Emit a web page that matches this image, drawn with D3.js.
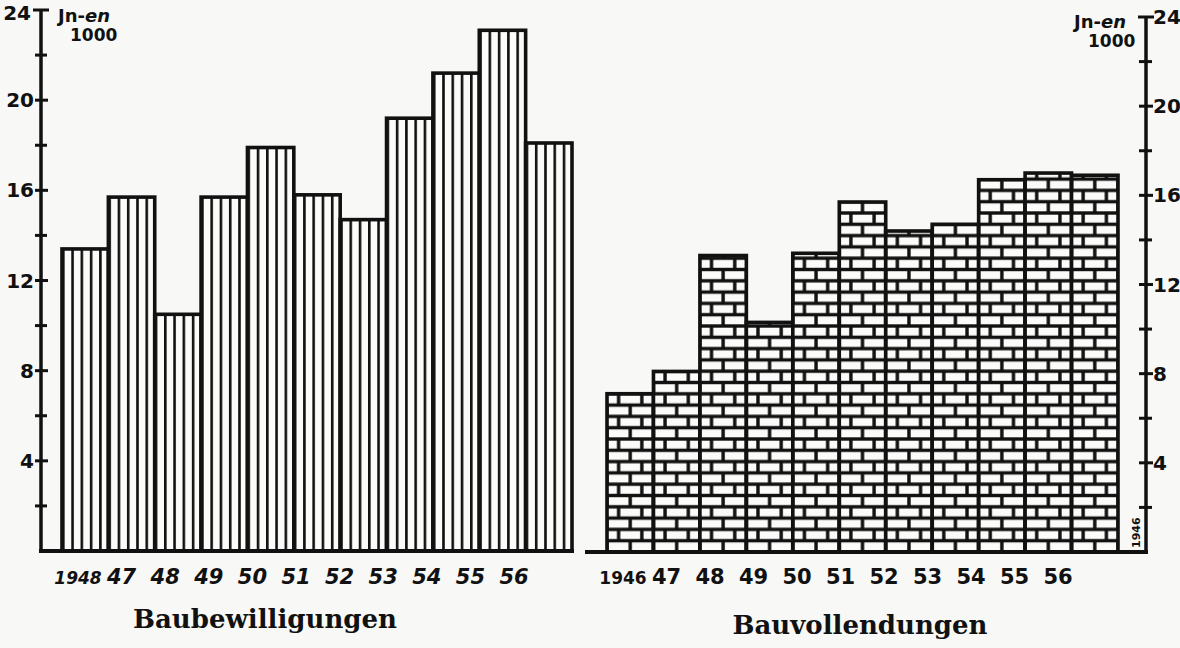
<!DOCTYPE html>
<html>
<head>
<meta charset="utf-8">
<script src="https://cdn.jsdelivr.net/npm/d3@7"></script>
<style>
  body { margin: 0; background: #f8f8f6; }
  svg { display: block; }
</style>
</head>
<body>
<div id="chart"></div>
<script>
// data (Jn-en 1000)
var yearsLeft = ["1948", "47", "48", "49", "50", "51", "52", "53", "54", "55", "56"];
var bewilligungen = [13.4, 15.7, 10.5, 15.7, 17.9, 15.8, 14.7, 19.2, 21.2, 23.1, 18.1];

var yearsRight = ["1946", "47", "48", "49", "50", "51", "52", "53", "54", "55", "56"];
var vollendungen = [7.1, 8.1, 13.3, 10.3, 13.4, 15.7, 14.4, 14.7, 16.7, 17.0, 16.9];

var majorTicks = [4, 8, 12, 16, 20, 24];
var minorTicks = [2, 6, 10, 14, 18, 22];

var svgWidth = 1180, svgHeight = 648;

var svg = d3.select("#chart")
    .append("svg")
    .attr("width", svgWidth)
    .attr("height", svgHeight);

var defs = svg.append("defs");
var ink = "#111";
var paper = "#fbfbf9";
var numFont = "'DejaVu Sans', sans-serif";

// ---------- left chart: Baubewilligungen ----------
var yL = d3.scaleLinear().domain([0, 24]).range([551, 10]);
var xL = d3.scaleBand().domain(yearsLeft).range([62, 572]).padding(0);
var labL = d3.scalePoint().domain(yearsLeft).range([78, 514]);

// stripes, one pattern per bar so lines line up with the bar edge
yearsLeft.forEach(function (d, i) {
    var p = defs.append("pattern")
        .attr("id", "stripe" + i)
        .attr("patternUnits", "userSpaceOnUse")
        .attr("x", xL(d))
        .attr("y", 0)
        .attr("width", xL.bandwidth() / 5)
        .attr("height", 20);
    p.append("rect").attr("width", xL.bandwidth() / 5).attr("height", 20).attr("fill", paper);
    p.append("rect").attr("x", 0).attr("width", 2.6).attr("height", 20).attr("fill", ink);
});

var gL = svg.append("g");

gL.selectAll("rect.bar")
    .data(bewilligungen)
    .enter()
    .append("rect")
    .attr("class", "bar")
    .attr("x", function (d, i) { return xL(yearsLeft[i]); })
    .attr("y", function (d) { return yL(d); })
    .attr("width", xL.bandwidth())
    .attr("height", function (d) { return yL(0) - yL(d); })
    .attr("fill", function (d, i) { return "url(#stripe" + i + ")"; })
    .attr("stroke", ink)
    .attr("stroke-width", 3.6);

// axis line + baseline
gL.append("line").attr("x1", 41).attr("x2", 41).attr("y1", yL(24)).attr("y2", yL(0))
    .attr("stroke", ink).attr("stroke-width", 3.5);
gL.append("line").attr("x1", 39).attr("x2", 574).attr("y1", yL(0)).attr("y2", yL(0))
    .attr("stroke", ink).attr("stroke-width", 4);

gL.selectAll("line.maj")
    .data(majorTicks)
    .enter()
    .append("line")
    .attr("x1", function (d) { return d == 24 ? 33 : 35; })
    .attr("x2", function (d) { return d == 24 ? 49 : 48; })
    .attr("y1", function (d) { return yL(d); })
    .attr("y2", function (d) { return yL(d); })
    .attr("stroke", ink).attr("stroke-width", 3);
gL.selectAll("line.min")
    .data(minorTicks)
    .enter()
    .append("line")
    .attr("x1", 35).attr("x2", 47)
    .attr("y1", function (d) { return yL(d); })
    .attr("y2", function (d) { return yL(d); })
    .attr("stroke", ink).attr("stroke-width", 3);

gL.selectAll("text.ylab")
    .data(majorTicks)
    .enter()
    .append("text")
    .attr("x", function (d) { return d == 24 ? 31 : 34; })
    .attr("y", function (d) { return yL(d) + (d == 24 ? 10 : 7); })
    .attr("text-anchor", "end")
    .attr("font-family", numFont)
    .attr("font-weight", "bold")
    .attr("font-size", 20)
    .attr("fill", ink)
    .text(function (d) { return d; });

gL.selectAll("text.xlab")
    .data(yearsLeft)
    .enter()
    .append("text")
    .attr("x", function (d) { return labL(d); })
    .attr("y", 584)
    .attr("text-anchor", "middle")
    .attr("font-family", numFont)
    .attr("font-weight", "bold")
    .attr("font-style", "italic")
    .attr("font-size", d => d.length > 2 ? 17 : 21)
    .attr("fill", ink)
    .text(function (d) { return d; });

var unitL = gL.append("text")
    .attr("x", 58).attr("y", 22)
    .attr("font-family", numFont).attr("font-weight", "bold").attr("font-size", 18).attr("fill", ink);
unitL.append("tspan").text("Jn-");
unitL.append("tspan").attr("font-style", "italic").text("en");
gL.append("text").attr("x", 70).attr("y", 41)
    .attr("font-family", numFont).attr("font-weight", "bold").attr("font-size", 17).attr("fill", ink)
    .text("1000");

gL.append("text")
    .attr("x", 265).attr("y", 628)
    .attr("text-anchor", "middle")
    .attr("font-family", "'DejaVu Serif', serif")
    .attr("font-weight", "bold")
    .attr("font-size", 26)
    .attr("fill", ink)
    .text("Baubewilligungen");

// ---------- right chart: Bauvollendungen ----------
var yR = d3.scaleLinear().domain([0, 24]).range([552, 17]);
var xR = d3.scaleBand().domain(yearsRight).range([607, 1118]).padding(0);
var labR = d3.scalePoint().domain(yearsRight).range([623, 1058]);

var bw = xR.bandwidth(), brickH = 11.3, brickW = bw / 2;
yearsRight.forEach(function (d, i) {
    var p = defs.append("pattern")
        .attr("id", "brick" + i)
        .attr("patternUnits", "userSpaceOnUse")
        .attr("x", xR(d) - brickW / 2)
        .attr("y", yR(0))
        .attr("width", brickW)
        .attr("height", brickH * 2);
    p.append("rect").attr("width", brickW).attr("height", brickH * 2).attr("fill", ink);
    // row one
    p.append("rect").attr("x", 1.7).attr("y", 1.7).attr("width", brickW - 3.4).attr("height", brickH - 3.4).attr("fill", paper);
    // row two, half offset
    p.append("rect").attr("x", 0).attr("y", brickH + 1.7).attr("width", brickW / 2 - 1.7).attr("height", brickH - 3.4).attr("fill", paper);
    p.append("rect").attr("x", brickW / 2 + 1.7).attr("y", brickH + 1.7).attr("width", brickW / 2 - 1.7).attr("height", brickH - 3.4).attr("fill", paper);
});

var gR = svg.append("g");

gR.selectAll("rect.bar")
    .data(vollendungen)
    .enter()
    .append("rect")
    .attr("class", "bar")
    .attr("x", function (d, i) { return xR(yearsRight[i]); })
    .attr("y", function (d) { return yR(d); })
    .attr("width", bw)
    .attr("height", function (d) { return yR(0) - yR(d); })
    .attr("fill", function (d, i) { return "url(#brick" + i + ")"; })
    .attr("stroke", ink)
    .attr("stroke-width", 3.6);

gR.append("line").attr("x1", 1146).attr("x2", 1146).attr("y1", yR(24)).attr("y2", yR(0))
    .attr("stroke", ink).attr("stroke-width", 3.5);
gR.append("line").attr("x1", 585).attr("x2", 1148).attr("y1", yR(0)).attr("y2", yR(0))
    .attr("stroke", ink).attr("stroke-width", 4);

gR.selectAll("line.maj")
    .data(majorTicks)
    .enter()
    .append("line")
    .attr("x1", function (d) { return d == 24 ? 1138 : 1139; })
    .attr("x2", function (d) { return d == 24 ? 1154 : 1153; })
    .attr("y1", function (d) { return yR(d); })
    .attr("y2", function (d) { return yR(d); })
    .attr("stroke", ink).attr("stroke-width", 3);
gR.selectAll("line.min")
    .data(minorTicks)
    .enter()
    .append("line")
    .attr("x1", 1139).attr("x2", 1152)
    .attr("y1", function (d) { return yR(d); })
    .attr("y2", function (d) { return yR(d); })
    .attr("stroke", ink).attr("stroke-width", 3);

gR.selectAll("text.ylab")
    .data(majorTicks)
    .enter()
    .append("text")
    .attr("x", 1153)
    .attr("y", function (d) { return yR(d) + 7; })
    .attr("text-anchor", "start")
    .attr("font-family", numFont)
    .attr("font-weight", "bold")
    .attr("font-size", 20)
    .attr("fill", ink)
    .text(function (d) { return d; });

gR.selectAll("text.xlab")
    .data(yearsRight)
    .enter()
    .append("text")
    .attr("x", function (d) { return labR(d); })
    .attr("y", 584)
    .attr("text-anchor", "middle")
    .attr("font-family", numFont)
    .attr("font-weight", "bold")
    .attr("font-size", d => d.length > 2 ? 17 : 21)
    .attr("fill", ink)
    .text(function (d) { return d; });

// little rotated year mark by the right axis
gR.append("text")
    .attr("transform", "translate(1140,548) rotate(-90)")
    .attr("font-family", numFont)
    .attr("font-weight", "bold")
    .attr("font-size", 11)
    .attr("fill", ink)
    .text("1946");

var unitR = gR.append("text")
    .attr("x", 1074).attr("y", 28)
    .attr("font-family", numFont).attr("font-weight", "bold").attr("font-size", 18).attr("fill", ink);
unitR.append("tspan").text("Jn-");
unitR.append("tspan").attr("font-style", "italic").text("en");
gR.append("text").attr("x", 1088).attr("y", 47)
    .attr("font-family", numFont).attr("font-weight", "bold").attr("font-size", 17).attr("fill", ink)
    .text("1000");

gR.append("text")
    .attr("x", 860).attr("y", 634)
    .attr("text-anchor", "middle")
    .attr("font-family", "'DejaVu Serif', serif")
    .attr("font-weight", "bold")
    .attr("font-size", 26)
    .attr("fill", ink)
    .text("Bauvollendungen");
</script>
</body>
</html>
